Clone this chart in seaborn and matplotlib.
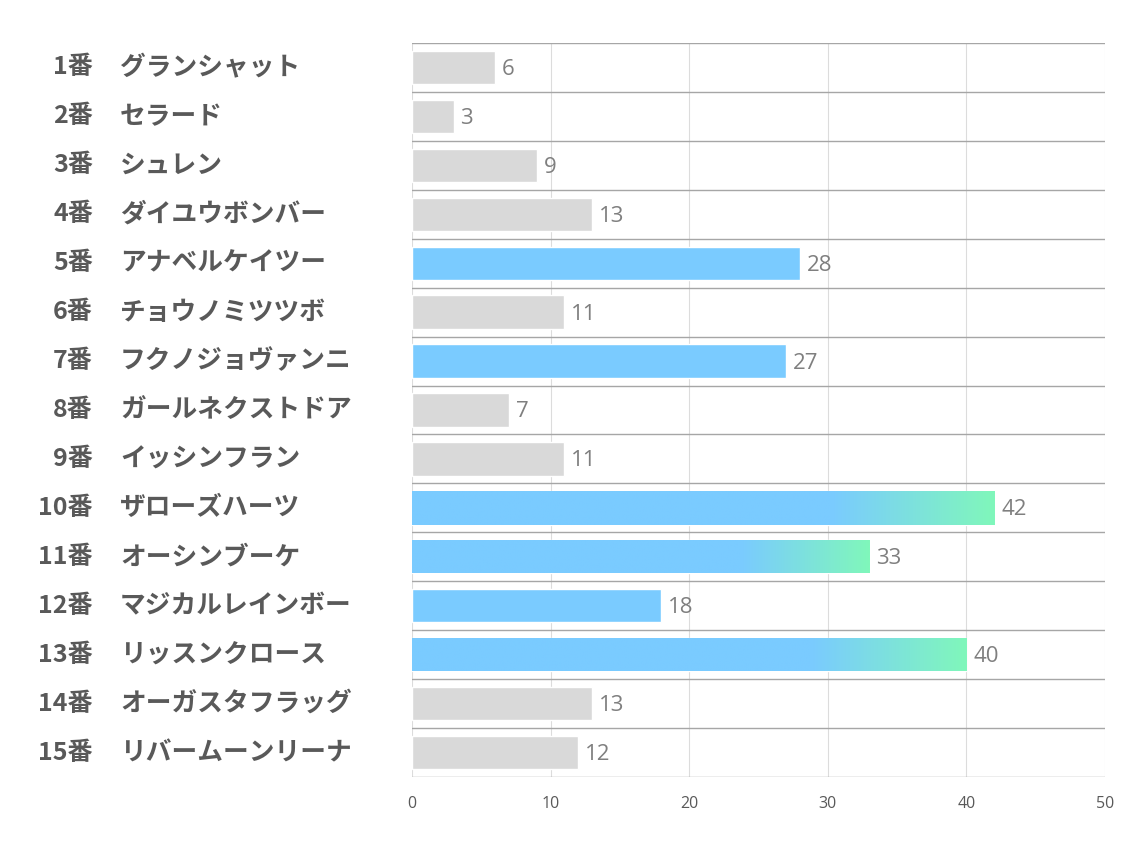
import numpy as np
import pandas as pd
import matplotlib
matplotlib.use("Agg")
import matplotlib.pyplot as plt
import seaborn as sns
from matplotlib.colors import LinearSegmentedColormap

numbers = ["1番", "2番", "3番", "4番", "5番", "6番", "7番", "8番",
           "9番", "10番", "11番", "12番", "13番", "14番", "15番"]
names = ["グランシャット", "セラード", "シュレン", "ダイユウボンバー", "アナベルケイツー",
         "チョウノミツツボ", "フクノジョヴァンニ", "ガールネクストドア", "イッシンフラン",
         "ザローズハーツ", "オーシンブーケ", "マジカルレインボー", "リッスンクロース",
         "オーガスタフラッグ", "リバームーンリーナ"]
values = [6, 3, 9, 13, 28, 11, 27, 7, 11, 42, 33, 18, 40, 13, 12]
x_ticks = [0, 10, 20, 30, 40, 50]

GRAY = "#d9d9d9"
BLUE = "#7acbff"
GREEN = "#80f7bb"

df = pd.DataFrame({"horse": [f"{n}　{m}" for n, m in zip(numbers, names)], "value": values})
df["color"] = [BLUE if v >= 18 else GRAY for v in values]

sns.set_style("white")
plt.rcParams["font.family"] = ["Noto Sans CJK JP", "DejaVu Sans"]

fig = plt.figure(figsize=(11.34, 8.5), dpi=100)
ax = fig.add_axes([412 / 1134, 1 - 777 / 850, 693 / 1134, 734 / 850])

sns.barplot(data=df, y="horse", x="value", hue="horse", palette=list(df["color"]),
            legend=False, width=0.68, ax=ax, saturation=1, orient="h")

# gradient fill for the long bars: blue to green over the last ~28% of the bar
cmap = LinearSegmentedColormap.from_list("bg", [(0, BLUE), (0.72, BLUE), (1, GREEN)])
grad = np.linspace(0, 1, 256).reshape(1, -1)
for i, p in enumerate(ax.patches[:len(values)]):
    if values[i] >= 30:
        x0, y0 = p.get_x(), p.get_y()
        w, h = p.get_width(), p.get_height()
        im = ax.imshow(grad, cmap=cmap, aspect="auto", extent=(x0, x0 + w, y0 + h, y0), zorder=3)
        im.set_clip_path(p)

ax.set_xlim(0, 50)
ax.set_ylim(len(values) - 0.5, -0.5)
for s in ax.spines.values():
    s.set_visible(False)

for xv in x_ticks:
    ax.axvline(xv, color="#dcdcdc", lw=0.8, zorder=0)
for k in range(len(values) + 1):
    ax.axhline(k - 0.5, color="#a6a6a6", lw=1, zorder=4)

for i, v in enumerate(values):
    ax.text(v + 0.5, i + 0.04, str(v), va="center", ha="left", fontsize=16,
            color="#7f7f7f", family=["Open Sans", "DejaVu Sans"])

ax.set_xticks(x_ticks)
ax.set_xticklabels([str(t) for t in x_ticks], fontsize=11.5, color="#595959",
                   family=["Open Sans", "DejaVu Sans"])
ax.tick_params(axis="x", length=0, pad=14)
ax.set_yticks([])
ax.set_xlabel("")
ax.set_ylabel("")

# left labels: number right-aligned, name left-aligned
for i, (n, m) in enumerate(zip(numbers, names)):
    yf = ax.transData.transform((0, i))[1]
    yfig = yf / fig.bbox.height
    fig.text(93 / 1134, yfig, n, ha="right", va="center", fontsize=18,
             fontweight="bold", color="#595959")
    fig.text(120 / 1134, yfig, m, ha="left", va="center", fontsize=18.5,
             fontweight="bold", color="#595959")

fig.savefig("out.png", dpi=100)
